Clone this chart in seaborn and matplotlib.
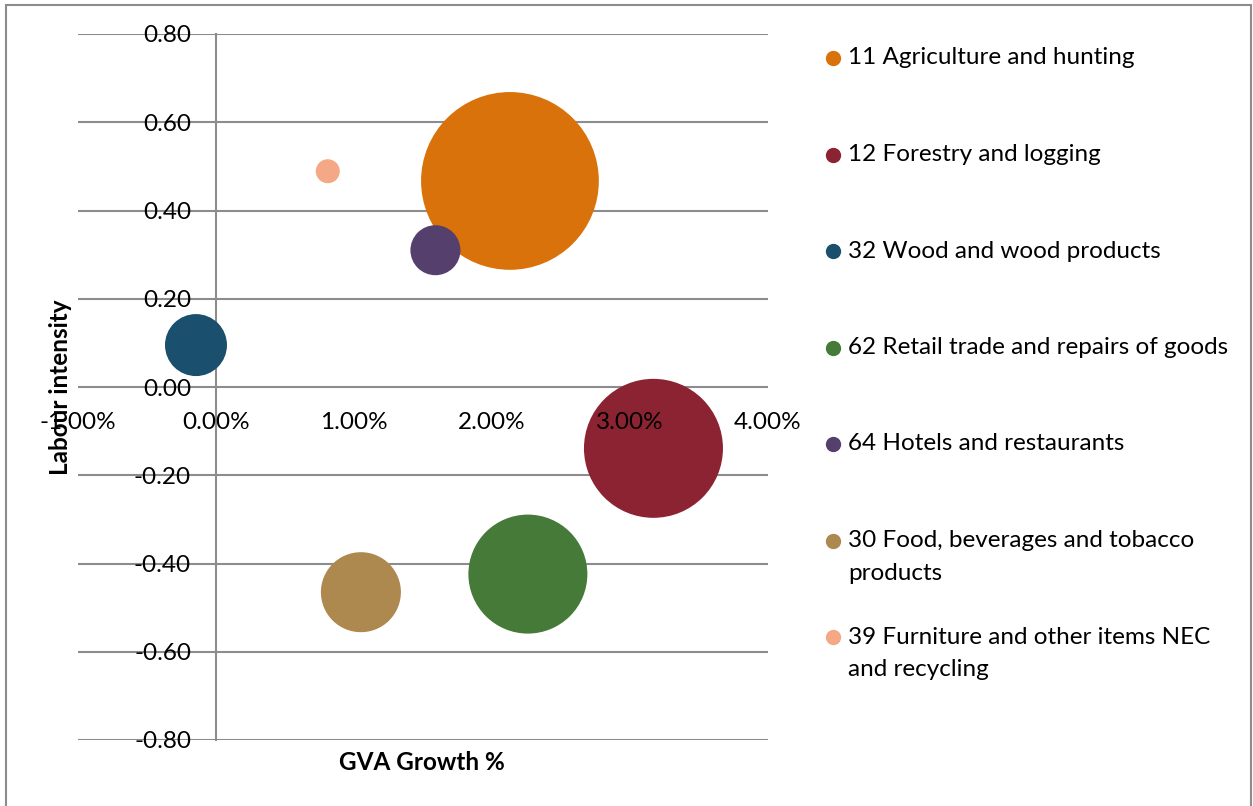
import matplotlib
matplotlib.use("Agg")
import matplotlib.pyplot as plt
import seaborn as sns
import pandas as pd
from matplotlib.lines import Line2D
from matplotlib.patches import Rectangle
from matplotlib.ticker import FuncFormatter

# ---- data ----
sectors = [
    "11 Agriculture and hunting",
    "12 Forestry and logging",
    "32 Wood and wood products",
    "62 Retail trade and repairs of goods",
    "64 Hotels and restaurants",
    "30 Food, beverages and tobacco\nproducts",
    "39 Furniture and other items NEC\nand recycling",
]
gva_growth = [0.0213, 0.0317, -0.00145, 0.0226, 0.0159, 0.0105, 0.0081]
labour_intensity = [0.467, -0.139, 0.095, -0.424, 0.310, -0.465, 0.489]
bubble_size = [7900, 4830, 961, 3540, 625, 1600, 144]
colors = ["#D9720A", "#8B2332", "#1B4F6E", "#467A38", "#553F6C", "#AD884F", "#F4A886"]
x_ticks = [-0.01, 0.0, 0.01, 0.02, 0.03, 0.04]
y_ticks = [-0.8, -0.6, -0.4, -0.2, 0.0, 0.2, 0.4, 0.6, 0.8]

df = pd.DataFrame({"sector": sectors, "gva": gva_growth,
                   "li": labour_intensity, "size": bubble_size})

sns.set_theme(style="white")
plt.rcParams["font.family"] = ["Lato", "DejaVu Sans"]
plt.rcParams["text.color"] = "black"

FS = 17.5
W, H = 1253, 806
fig = plt.figure(figsize=(W / 100, H / 100), dpi=100)
ax = fig.add_axes([78 / W, 1 - 740 / H, (768 - 78) / W, (740 - 34) / H])
ax.set_axisbelow(False)

grid_col = "#8C8C8C"
for yv in y_ticks:
    ax.axhline(yv, color=grid_col, lw=1.5, zorder=0.5)

k = (1.44 ** 2)
smin, smax = min(bubble_size), max(bubble_size)
sns.scatterplot(data=df, x="gva", y="li", hue="sector", palette=colors,
                size="size", sizes=(smin * k, smax * k), size_norm=(smin, smax),
                linewidth=0, alpha=1, legend=False, ax=ax, zorder=2)

ax.set_xlim(-0.01, 0.04)
ax.set_ylim(-0.8, 0.8)
ax.set_xticks(x_ticks)
ax.set_yticks(y_ticks)
ax.xaxis.set_major_formatter(FuncFormatter(lambda v, p: f"{v*100:.2f}%"))
ax.yaxis.set_major_formatter(FuncFormatter(lambda v, p: f"{v:.2f}"))

for s in ["top", "right", "bottom"]:
    ax.spines[s].set_visible(False)
ax.spines["left"].set_position(("data", 0))
ax.spines["left"].set_color(grid_col)
ax.spines["left"].set_linewidth(1.5)
ax.spines["left"].set_zorder(0.5)
ax.spines["bottom"].set_position(("data", 0))

ax.tick_params(axis="x", length=0, pad=18, labelsize=FS, labelcolor="black")
ax.tick_params(axis="y", length=0, pad=18, labelsize=FS, labelcolor="black")
ax.set_xlabel("")
ax.set_ylabel("")
ax.set_facecolor("none")

fig.text(422 / W, 1 - 762 / H, "GVA Growth %", ha="center", va="center",
         fontsize=FS, fontweight="bold")
fig.text(60 / W, 1 - 387 / H, "Labour intensity", ha="center", va="center",
         rotation=90, fontsize=FS, fontweight="bold", zorder=5)

# legend
y0, dy = 58, 96.5
for i, (lab, c) in enumerate(zip(sectors, colors)):
    yy = 1 - (y0 + i * dy) / H
    fig.add_artist(Line2D([833 / W], [yy], marker="o", color=c,
                          markersize=10, linestyle="none"))
    for j, ln in enumerate(lab.split("\n")):
        fig.text(848 / W, yy - j * 33 / H, ln, ha="left", va="center", fontsize=FS)

fig.add_artist(Rectangle((6 / W, -0.01), (W - 8) / W, 1 - 5 / H + 0.01,
                         transform=fig.transFigure, fill=False,
                         edgecolor="#8C8C8C", lw=1.5))

fig.savefig("out.png", dpi=100)
